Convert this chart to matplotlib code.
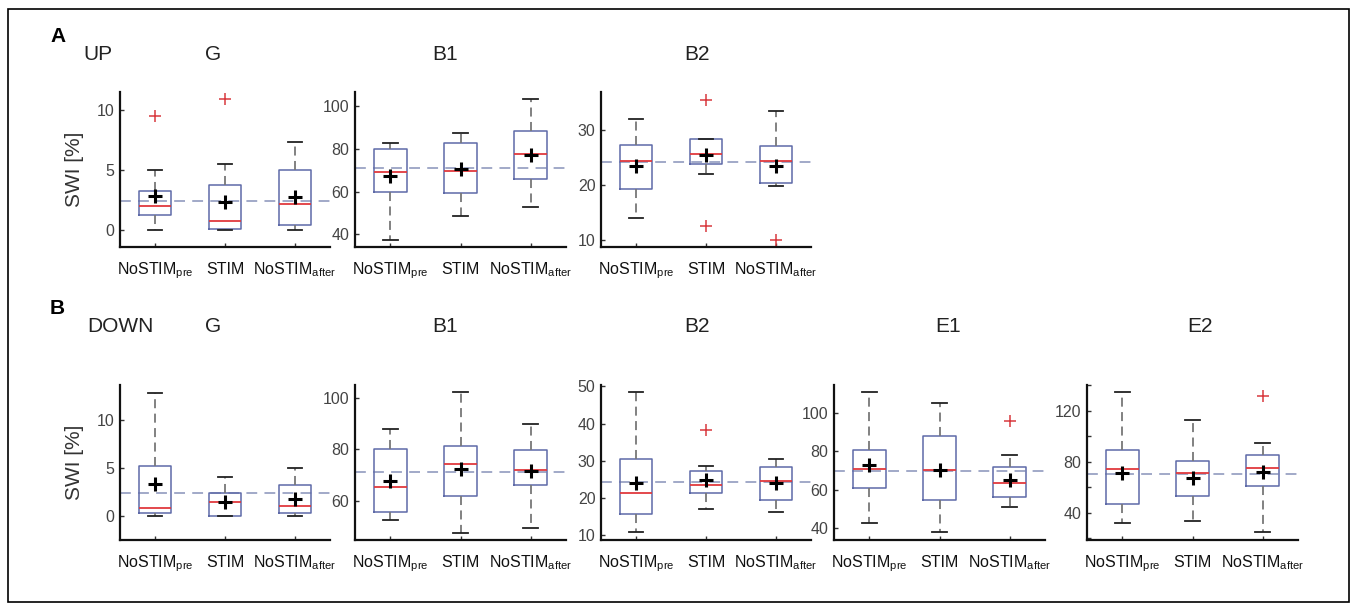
import matplotlib
matplotlib.use("Agg")
import matplotlib.pyplot as plt
from matplotlib.patches import Rectangle
from matplotlib.ticker import MultipleLocator

plt.rcParams["font.family"] = ["Liberation Sans", "DejaVu Sans"]
plt.rcParams["mathtext.fontset"] = "custom"
plt.rcParams["mathtext.rm"] = "Liberation Sans"

categories = [r"NoSTIM$_{\mathrm{pre}}$", "STIM", r"NoSTIM$_{\mathrm{after}}$"]

# each row: whisker low, q1, median, q3, whisker high, mean
up_g = [[0.0, 1.3, 2.0, 3.3, 5.0, 2.85], [0.0, 0.1, 0.78, 3.8, 5.5, 2.33], [0.0, 0.42, 2.17, 4.97, 7.36, 2.72]]
up_g_out = [[9.5], [10.9], []]
up_b1 = [[37.4, 59.7, 69.1, 79.8, 82.9, 67.1], [48.7, 59.2, 69.8, 82.5, 87.3, 70.5], [52.6, 65.7, 77.5, 88.1, 103.1, 77.1]]
up_b1_out = [[], [], []]
up_b2 = [[14.0, 19.2, 24.3, 27.3, 32.05, 23.5], [22.0, 23.8, 25.6, 28.4, 28.4, 25.4], [19.85, 20.3, 24.3, 27.1, 33.4, 23.4]]
up_b2_out = [[], [35.5, 12.6], [9.94]]

down_g = [[0.0, 0.31, 0.77, 5.23, 12.86, 3.28], [0.0, 0.0, 1.39, 2.37, 4.08, 1.43], [0.0, 0.31, 0.98, 3.17, 5.02, 1.74]]
down_g_out = [[], [], []]
down_b1 = [[52.4, 55.6, 65.3, 80.3, 88.0, 67.9], [47.7, 61.7, 74.2, 81.5, 102.1, 72.5], [49.5, 66.1, 72.1, 79.9, 89.8, 71.7]]
down_b1_out = [[], [], []]
down_b2 = [[10.8, 15.7, 21.2, 30.5, 48.5, 24.1], [16.9, 21.4, 23.3, 27.2, 28.5, 24.7], [16.2, 19.3, 24.5, 28.2, 30.5, 23.9]]
down_b2_out = [[], [38.2], []]
down_e1 = [[42.4, 60.7, 70.6, 80.9, 110.96, 73.0], [37.6, 54.4, 70.3, 88.0, 105.6, 70.4], [51.1, 56.3, 63.7, 71.8, 77.9, 65.0]]
down_e1_out = [[], [], [96.2]]
down_e2 = [[32.0, 47.1, 74.4, 89.0, 134.6, 71.3], [33.3, 53.6, 71.3, 80.7, 113.0, 67.4], [24.7, 60.9, 75.5, 85.4, 94.5, 72.3]]
down_e2_out = [[], [], [131.5]]

# dashed reference lines
ref_up = [2.39, 71.2, 24.2]
ref_down = [2.4, 71.2, 24.2, 69.9, 70.3]

W, H = 1356, 608
fig = plt.figure(figsize=(W / 100, H / 100), dpi=100)


def px_box(x0, x1, ytop, ybot):
	return [x0 / W, 1 - ybot / H, (x1 - x0) / W, (ybot - ytop) / H]


def draw_panel(rect, stats, outliers, ref, ylim, yticks, ylabel=False, minor=None):
	ax = fig.add_axes(rect)
	bxp_stats = []
	for s, o in zip(stats, outliers):
		bxp_stats.append({"whislo": s[0], "q1": s[1], "med": s[2], "q3": s[3],
						  "whishi": s[4], "mean": s[5], "fliers": o})
	ax.axhline(ref, color="#9aa3c4", ls=(0, (6, 4)), lw=1.3, zorder=1)
	ax.bxp(bxp_stats, positions=[1, 2, 3], widths=0.47, capwidths=0.21,
		   showmeans=True, showfliers=True, patch_artist=False,
		   boxprops=dict(color="#5e6aa8", lw=1.1),
		   medianprops=dict(color="#e0393e", lw=1.3),
		   whiskerprops=dict(color="#777777", ls=(0, (5, 3)), lw=1.3),
		   capprops=dict(color="#222222", lw=1.3),
		   meanprops=dict(marker="+", markeredgecolor="black", markersize=10, markeredgewidth=2.2),
		   flierprops=dict(marker="+", markeredgecolor="#d9393e", markersize=8, markeredgewidth=1.1))
	ax.set_xlim(0.5, 3.5)
	ax.set_ylim(*ylim)
	ax.set_yticks(yticks)
	if minor:
		ax.yaxis.set_minor_locator(MultipleLocator(minor))
		ax.tick_params(axis="y", which="minor", direction="in", length=3, width=1, color="#333333")
	ax.set_xticks([1, 2, 3])
	ax.set_xticklabels(categories, fontsize=11.5, color="#111111", va="baseline")
	ax.tick_params(axis="both", which="major", direction="in", length=3, width=1, color="#333333")
	ax.tick_params(axis="y", labelsize=11.5, labelcolor="#444444", pad=4)
	ax.tick_params(axis="x", pad=19.5)
	for side in ("top", "right"):
		ax.spines[side].set_visible(False)
	for side in ("left", "bottom"):
		ax.spines[side].set_linewidth(1.6)
		ax.spines[side].set_color("#111111")
	if ylabel:
		ax.set_ylabel("SWI [%]", fontsize=15, color="#333333", labelpad=9)
	return ax


xs = [(120, 330), (355, 566), (601, 811), (834, 1045), (1087, 1298)]
top_a, bot_a = 92, 247
top_b, bot_b = 385, 540

draw_panel(px_box(*xs[0], top_a, bot_a), up_g, up_g_out, ref_up[0], (-1.4, 11.5), [0, 5, 10], ylabel=True)
draw_panel(px_box(*xs[1], top_a, bot_a), up_b1, up_b1_out, ref_up[1], (34.1, 106.5), [40, 60, 80, 100])
draw_panel(px_box(*xs[2], top_a, bot_a), up_b2, up_b2_out, ref_up[2], (8.7, 36.9), [10, 20, 30])

draw_panel(px_box(*xs[0], top_b, bot_b), down_g, down_g_out, ref_down[0], (-2.54, 13.66), [0, 5, 10], ylabel=True)
draw_panel(px_box(*xs[1], top_b, bot_b), down_b1, down_b1_out, ref_down[1], (44.8, 105), [60, 80, 100])
draw_panel(px_box(*xs[2], top_b, bot_b), down_b2, down_b2_out, ref_down[2], (8.6, 50.4), [10, 20, 30, 40, 50])
draw_panel(px_box(*xs[3], top_b, bot_b), down_e1, down_e1_out, ref_down[3], (33.6, 114.8), [40, 60, 80, 100])
draw_panel(px_box(*xs[4], top_b, bot_b), down_e2, down_e2_out, ref_down[4], (18.7, 140.3), [40, 80, 120], minor=20)


def ftext(x, y, s, **kw):
	fig.text(x / W, 1 - y / H, s, ha="center", va="center", **kw)


ftext(58, 36, "A", fontsize=15, fontweight="bold")
ftext(98, 55, "UP", fontsize=15, color="#222222")
for x, t in zip([213, 445, 697], ["G", "B1", "B2"]):
	ftext(x, 55, t, fontsize=15, color="#222222")

ftext(57, 308, "B", fontsize=15, fontweight="bold")
ftext(120, 327, "DOWN", fontsize=15, color="#222222")
for x, t in zip([213, 445, 697, 948, 1200], ["G", "B1", "B2", "E1", "E2"]):
	ftext(x, 327, t, fontsize=15, color="#222222")

fig.patches.append(Rectangle((8 / W, 1 - 602 / H), (1349 - 8) / W, (602 - 9) / H,
							 transform=fig.transFigure, fill=False, edgecolor="black", lw=1.2))

plt.savefig("out.png", dpi=100)
plt.close()
